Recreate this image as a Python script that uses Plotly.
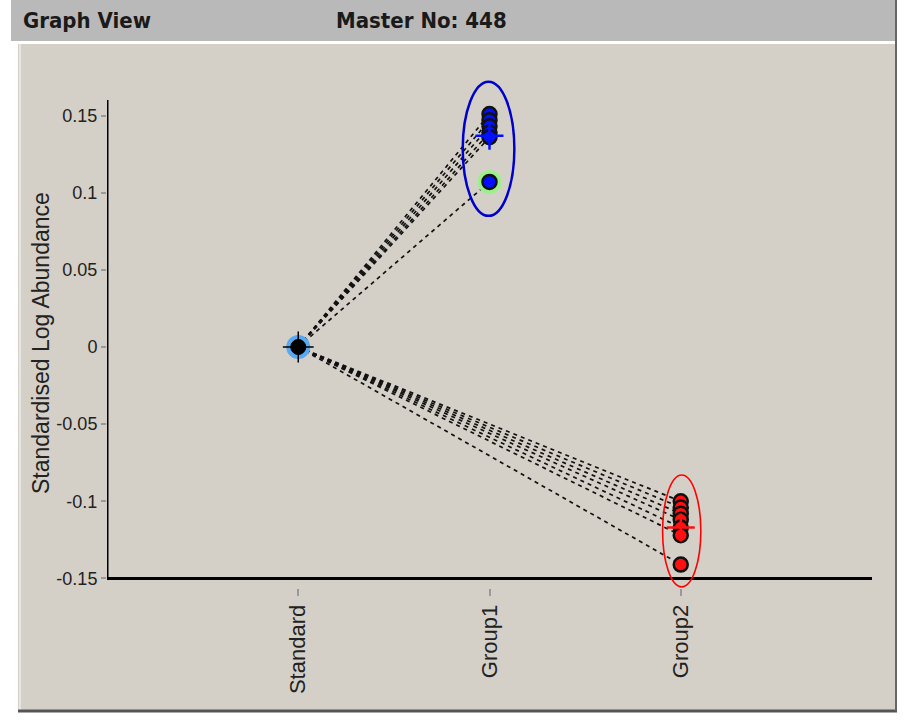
import plotly.graph_objects as go

# ---------------- data ----------------
categories = ["Standard", "Group1", "Group2"]
standard_value = 0.0
group1_values = [0.151, 0.147, 0.143, 0.139, 0.136, 0.107]
group2_values = [-0.100, -0.104, -0.108, -0.112, -0.117, -0.122, -0.141]
group1_mean = 0.137
group2_mean = -0.117
y_tick_vals = [-0.15, -0.1, -0.05, 0, 0.05, 0.1, 0.15]
y_tick_text = ["-0.15", "-0.1", "-0.05", "0", "0.05", "0.1", "0.15"]
header_left = "Graph View"
header_mid = "Master No: 448"
y_title = "Standardised Log Abundance"

# ---------------- layout geometry (pixels) ----------------
W, H = 904, 726
Y_RANGE = [-0.1562, 0.175]
Y_AXIS_TOP = 0.1601
ML, MR, MT, MB = 107, 32, 77, 138
PW, PH = W - ML - MR, H - MT - MB


def px(x):
    return (x - ML) / PW


def py(y):
    return (H - MB - y) / PH


BEIGE = "#d4d0c8"
xs = {c: i for i, c in enumerate(categories)}

fig = go.Figure()

# dashed connecting lines
lx, ly = [], []
for v in group1_values:
    lx += [xs["Standard"], xs["Group1"], None]
    ly += [standard_value, v, None]
for v in group2_values:
    lx += [xs["Standard"], xs["Group2"], None]
    ly += [standard_value, v, None]
fig.add_trace(go.Scatter(x=lx, y=ly, mode="lines",
                         line=dict(color="#111111", width=1.7, dash="4px,4px"),
                         hoverinfo="skip", showlegend=False))

# Standard point with halo
fig.add_trace(go.Scatter(x=[xs["Standard"]], y=[standard_value], mode="markers",
                         marker=dict(size=24, color="#5aa8f0", line=dict(width=0)),
                         showlegend=False))
fig.add_trace(go.Scatter(x=[xs["Standard"]], y=[standard_value], mode="markers",
                         marker=dict(size=22, symbol="cross-thin", line=dict(width=1.5, color="black")),
                         showlegend=False))
fig.add_trace(go.Scatter(x=[xs["Standard"]], y=[standard_value], mode="markers",
                         marker=dict(size=15, symbol="circle", color="black", line=dict(width=1, color="black")),
                         showlegend=False))

# Group1 points (highlighted last one has a green halo)
fig.add_trace(go.Scatter(x=[xs["Group1"]], y=[group1_values[-1]], mode="markers",
                         marker=dict(size=24, color="#9cf08c", line=dict(width=0)),
                         showlegend=False))
fig.add_trace(go.Scatter(x=[xs["Group1"]] * len(group1_values), y=group1_values, mode="markers",
                         marker=dict(size=14, color="#0010ff", line=dict(width=2.5, color="#111111")),
                         showlegend=False))
fig.add_trace(go.Scatter(x=[xs["Group1"]], y=[group1_mean], mode="markers",
                         marker=dict(size=20, symbol="cross-thin", line=dict(width=2.5, color="#0010ff")),
                         showlegend=False))

# Group2 points
fig.add_trace(go.Scatter(x=[xs["Group2"]] * len(group2_values), y=group2_values, mode="markers",
                         marker=dict(size=14, color="#ff1010", line=dict(width=2.5, color="#111111")),
                         showlegend=False))
fig.add_trace(go.Scatter(x=[xs["Group2"]], y=[group2_mean], mode="markers",
                         marker=dict(size=20, symbol="cross-thin", line=dict(width=2.5, color="#ff1010")),
                         showlegend=False))

shapes = []
# background panels (paper coords computed from pixels)
shapes.append(dict(type="rect", xref="paper", yref="paper", layer="below",
                   x0=px(0), x1=px(W), y0=py(H), y1=py(0), fillcolor="white", line=dict(width=0)))
shapes.append(dict(type="rect", xref="paper", yref="paper", layer="below",
                   x0=px(11), x1=px(897), y0=py(41), y1=py(0), fillcolor="#b9b9b9", line=dict(width=0)))
shapes.append(dict(type="rect", xref="paper", yref="paper", layer="below",
                   x0=px(18), x1=px(895), y0=py(711), y1=py(44), fillcolor=BEIGE, line=dict(width=0)))
shapes.append(dict(type="line", xref="paper", yref="paper", layer="below",
                   x0=px(20), x1=px(20), y0=py(711), y1=py(44), line=dict(color="#e8e6e2", width=2)))
shapes.append(dict(type="line", xref="paper", yref="paper", layer="below",
                   x0=px(18), x1=px(897), y0=py(711), y1=py(711), line=dict(color="#555555", width=3)))
shapes.append(dict(type="line", xref="paper", yref="paper", layer="below",
                   x0=px(896), x1=px(896), y0=py(711), y1=py(0), line=dict(color="#666666", width=2)))

# axis lines
y_lo = min(y_tick_vals)
shapes.append(dict(type="line", xref="x", yref="y", x0=-1, x1=3, y0=y_lo, y1=y_lo,
                   line=dict(color="black", width=3)))
shapes.append(dict(type="line", xref="x", yref="y", x0=-1, x1=-1, y0=y_lo, y1=Y_AXIS_TOP,
                   line=dict(color="black", width=3)))

# group ellipses derived from the data
shapes.append(dict(type="circle", xref="x", yref="y",
                   x0=xs["Group1"] - 0.14, x1=xs["Group1"] + 0.13,
                   y0=min(group1_values) - 0.022, y1=max(group1_values) + 0.021,
                   line=dict(color="#0000cc", width=2.5)))
shapes.append(dict(type="circle", xref="x", yref="y",
                   x0=xs["Group2"] - 0.095, x1=xs["Group2"] + 0.105,
                   y0=min(group2_values) - 0.0145, y1=max(group2_values) + 0.017,
                   line=dict(color="#ff0000", width=1.6)))

annotations = [
    dict(text=header_left, xref="paper", yref="paper", x=px(21), y=py(20),
         xanchor="left", yanchor="middle", showarrow=False,
         font=dict(family="DejaVu Sans Condensed", size=22, color="#1a1a1a", weight="bold")),
    dict(text=header_mid, xref="paper", yref="paper", x=px(334), y=py(20),
         xanchor="left", yanchor="middle", showarrow=False,
         font=dict(family="DejaVu Sans Condensed", size=22, color="#1a1a1a", weight="bold")),
    dict(text=y_title, xref="paper", yref="paper", x=px(41), y=py(343),
         xanchor="center", yanchor="middle", textangle=-90, showarrow=False,
         font=dict(family="Liberation Sans, Arial", size=23, color="#222222")),
]

fig.update_layout(
    width=W, height=H,
    margin=dict(l=ML, r=MR, t=MT, b=MB, pad=0),
    paper_bgcolor="white",
    plot_bgcolor="rgba(0,0,0,0)",
    shapes=shapes,
    annotations=annotations,
    showlegend=False,
    font=dict(family="Liberation Sans, Arial", size=18, color="#222222"),
)
fig.update_xaxes(range=[-1, 3], tickmode="array", tickvals=[xs[c] for c in categories],
                 ticktext=categories, tickangle=-90, showgrid=False, zeroline=False,
                 showline=False, ticks="outside", ticklen=7, tickcolor="#999999", tickwidth=1.5,
                 tickfont=dict(size=22, color="#222222"))
fig.update_yaxes(range=Y_RANGE, tickmode="array", tickvals=y_tick_vals,
                 ticktext=y_tick_text, showgrid=False, zeroline=False, showline=False,
                 ticks="outside", ticklen=5, tickcolor="#999999", tickwidth=1.5,
                 tickfont=dict(size=18, color="#222222"))

fig.write_html("out.html", config={"displayModeBar": False},
               post_script="document.body.style.margin='0';document.body.style.overflow='hidden';")
